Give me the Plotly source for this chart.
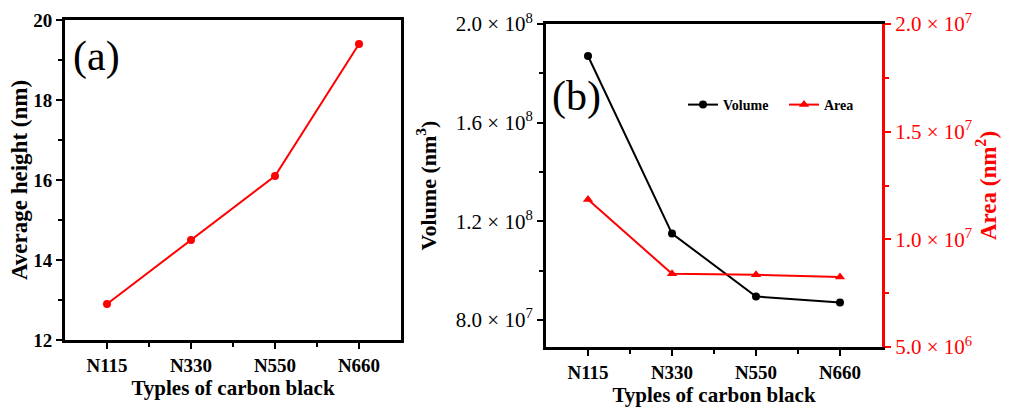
import plotly.graph_objects as go

categories = ["N115", "N330", "N550", "N660"]
avg_height = [12.9, 14.5, 16.1, 19.4]
volume = [1.87e8, 1.15e8, 8.95e7, 8.7e7]
area = [1.185e7, 8.4e6, 8.35e6, 8.25e6]

height_ticks = [12, 14, 16, 18, 20]
volume_ticks = [8.0e7, 1.2e8, 1.6e8, 2.0e8]
area_ticks = [5.0e6, 1.0e7, 1.5e7, 2.0e7]

xs = list(range(len(categories)))
W, H = 1011, 410
FONT = "Liberation Serif"
RED = "#ff0000"


def sci(v):
    e = len(str(int(v))) - 1
    m = v / 10 ** e
    return f"{m:.1f} × 10<sup>{e}</sup>"


def fx(px):
    return px / W


def fy(py):
    return 1 - py / H


fig = go.Figure()
fig.add_trace(go.Scatter(x=xs, y=avg_height, mode="lines+markers",
                         line=dict(color=RED, width=2),
                         marker=dict(color=RED, size=8, symbol="circle"),
                         xaxis="x", yaxis="y", showlegend=False))
fig.add_trace(go.Scatter(x=xs, y=volume, mode="lines+markers", name="<b>Volume</b>",
                         line=dict(color="black", width=2),
                         marker=dict(color="black", size=8, symbol="circle"),
                         xaxis="x2", yaxis="y2"))
fig.add_trace(go.Scatter(x=xs, y=area, mode="lines+markers", name="<b>Area</b>",
                         line=dict(color=RED, width=2),
                         marker=dict(color=RED, size=9, symbol="triangle-up"),
                         xaxis="x2", yaxis="y3"))

bold_tick = dict(family=FONT, size=19, color="black")
axis_common = dict(showline=True, linewidth=3, linecolor="black", ticks="outside",
                   ticklen=6, tickwidth=2, tickcolor="black", showgrid=False, zeroline=False)
minor_x = dict(tickvals=[0.5, 1.5, 2.5], ticks="outside", ticklen=4, tickwidth=2, tickcolor="black")

fig.update_layout(
    width=W, height=H, margin=dict(l=0, r=0, t=0, b=0, autoexpand=False),
    paper_bgcolor="white", plot_bgcolor="white",
    font=dict(family=FONT, color="black"),
    xaxis=dict(domain=[fx(65), fx(401)], range=[-0.5, 3.5], anchor="y", mirror=True,
               tickvals=xs, ticktext=[f"<b>{c}</b>" for c in categories], tickfont=bold_tick,
               minor=minor_x,
               title=dict(text="<b>Typles of carbon black</b>", font=dict(family=FONT, size=21), standoff=4),
               **axis_common),
    yaxis=dict(domain=[fy(340), fy(20)], range=[12, 20], anchor="x", mirror=True,
               tickvals=height_ticks, ticktext=[f"<b>{t}</b>" for t in height_ticks], tickfont=bold_tick,
               minor=dict(dtick=1, ticks="outside", ticklen=4, tickwidth=2, tickcolor="black"),
               title=dict(text="<b>Average height (nm)</b>", font=dict(family=FONT, size=23), standoff=0),
               **axis_common),
    xaxis2=dict(domain=[fx(546), fx(882)], range=[-0.5, 3.5], anchor="y2", mirror=True,
                tickvals=xs, ticktext=[f"<b>{c}</b>" for c in categories], tickfont=bold_tick,
                minor=minor_x,
                title=dict(text="<b>Typles of carbon black</b>", font=dict(family=FONT, size=21), standoff=4),
                **axis_common),
    yaxis2=dict(domain=[fy(347), fy(24)], range=[6.9e7, 2.0e8], anchor="x2",
                tickvals=volume_ticks, ticktext=[sci(v) for v in volume_ticks],
                tickfont=dict(family=FONT, size=21, color="black"),
                minor=dict(dtick=2e7, ticks="outside", ticklen=4, tickwidth=2, tickcolor="black"),
                title=dict(text="<b>Volume (nm<sup>3</sup>)</b>", font=dict(family=FONT, size=22), standoff=14),
                **axis_common),
    yaxis3=dict(domain=[fy(347), fy(24)], range=[5.0e6, 2.0e7], anchor="x2", overlaying="y2", side="right",
                showline=True, linewidth=3, linecolor=RED, ticks="outside", ticklen=6, tickwidth=2,
                tickcolor=RED, showgrid=False, zeroline=False,
                tickvals=area_ticks, ticktext=[sci(v) for v in area_ticks],
                tickfont=dict(family=FONT, size=21, color=RED),
                minor=dict(dtick=2.5e6, ticks="outside", ticklen=4, tickwidth=2, tickcolor=RED),
                title=dict(text="<b>Area (nm<sup>2</sup>)</b>", font=dict(family=FONT, size=23, color=RED), standoff=6)),
    legend=dict(x=fx(683), y=fy(105), xanchor="left", yanchor="middle", orientation="h",
                font=dict(family=FONT, size=14, color="black"), bgcolor="rgba(0,0,0,0)",
                itemwidth=30, entrywidth=56, entrywidthmode="pixels"),
    annotations=[
        dict(text="(a)", x=fx(71), y=fy(56), xref="paper", yref="paper", xanchor="left", yanchor="middle",
             showarrow=False, font=dict(family=FONT, size=42, color="black")),
        dict(text="(b)", x=fx(550), y=fy(96), xref="paper", yref="paper", xanchor="left", yanchor="middle",
             showarrow=False, font=dict(family=FONT, size=42, color="black")),
    ],
)

fig.write_html("out.html")
